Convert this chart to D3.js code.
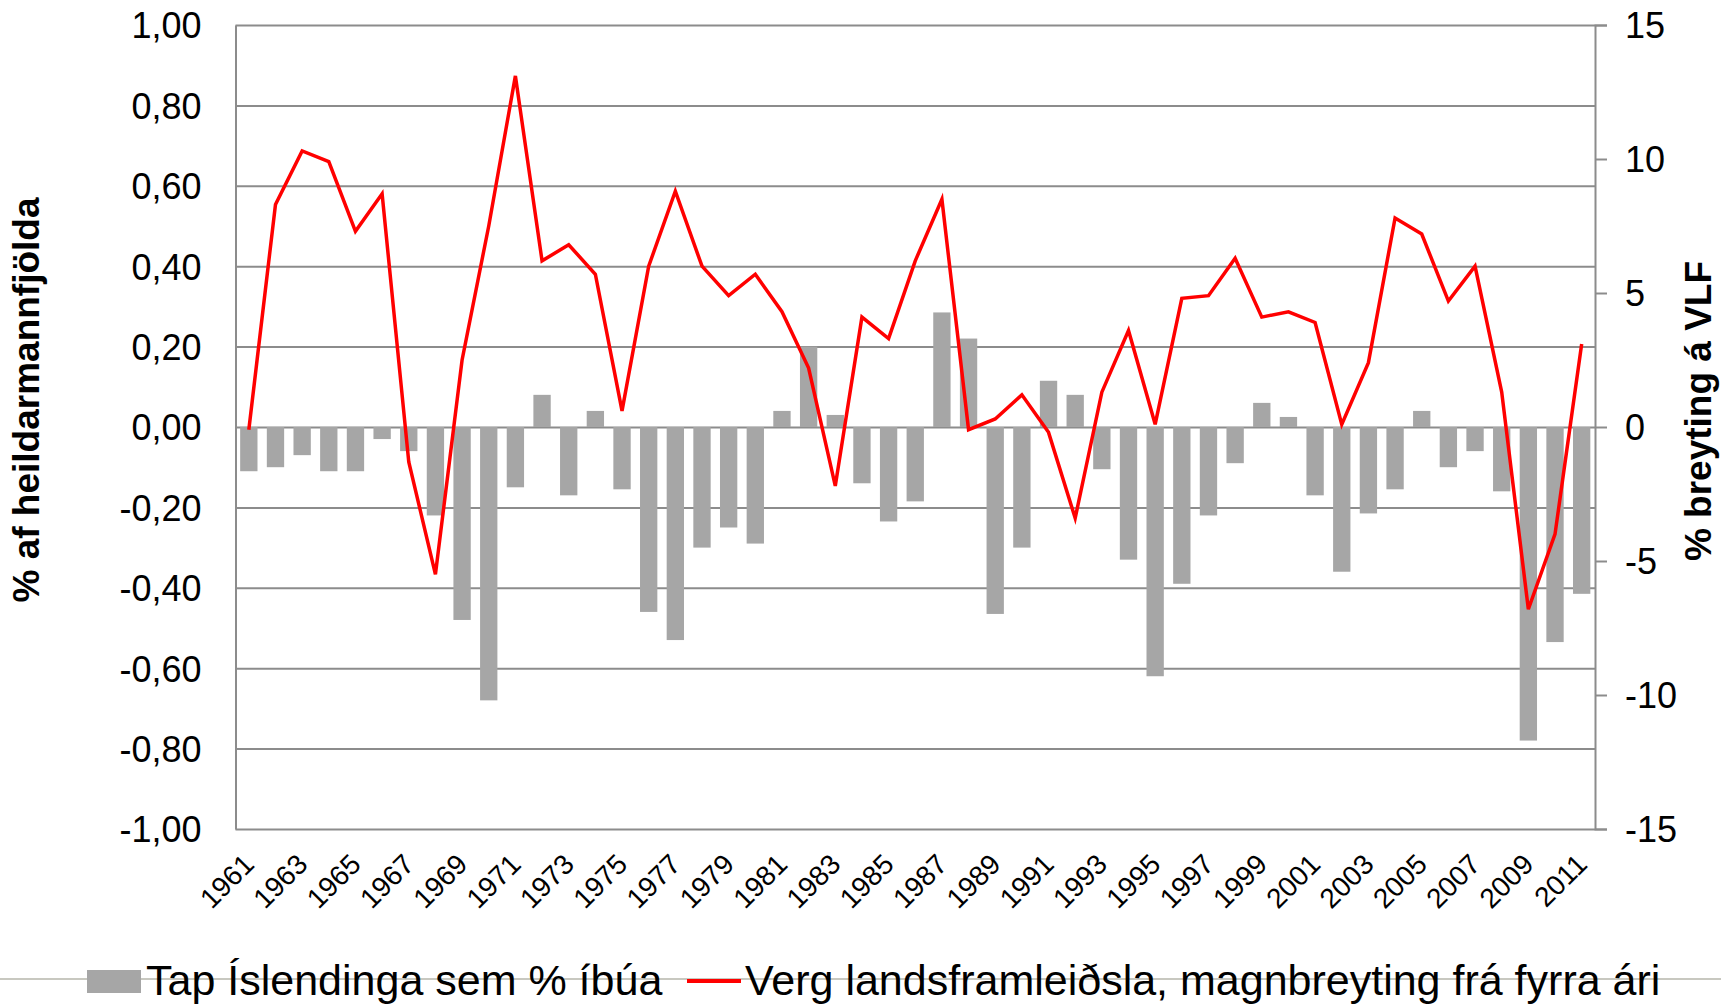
<!DOCTYPE html>
<html>
<head>
<meta charset="utf-8">
<script src="https://cdn.jsdelivr.net/npm/d3@7"></script>
<style>
  body { margin: 0; background: #fff; }
  svg { display: block; }
</style>
</head>
<body>
<div id="chart"></div>
<script>
// Years on the category axis
var years = [1961, 1962, 1963, 1964, 1965, 1966, 1967, 1968, 1969, 1970,
  1971, 1972, 1973, 1974, 1975, 1976, 1977, 1978, 1979, 1980,
  1981, 1982, 1983, 1984, 1985, 1986, 1987, 1988, 1989, 1990,
  1991, 1992, 1993, 1994, 1995, 1996, 1997, 1998, 1999, 2000,
  2001, 2002, 2003, 2004, 2005, 2006, 2007, 2008, 2009, 2010, 2011];

// Tap Íslendinga sem % íbúa (left axis)
var tapValues = [-0.11, -0.10, -0.07, -0.11, -0.11, -0.03, -0.06, -0.22, -0.48, -0.68,
  -0.15, 0.08, -0.17, 0.04, -0.155, -0.46, -0.53, -0.30, -0.25, -0.29,
  0.04, 0.20, 0.03, -0.14, -0.235, -0.185, 0.285, 0.22, -0.465, -0.30,
  0.115, 0.08, -0.105, -0.33, -0.62, -0.39, -0.22, -0.09, 0.06, 0.025,
  -0.17, -0.36, -0.215, -0.155, 0.04, -0.10, -0.06, -0.16, -0.78, -0.535, -0.415];

// Verg landsframleiðsla, magnbreyting (right axis)
var vlfValues = [-0.1, 8.3, 10.3, 9.9, 7.3, 8.7, -1.3, -5.5, 2.5, 7.5,
  13.1, 6.2, 6.8, 5.7, 0.6, 6.0, 8.8, 6.0, 4.9, 5.7,
  4.3, 2.2, -2.2, 4.1, 3.3, 6.2, 8.5, -0.1, 0.3, 1.2,
  -0.2, -3.4, 1.3, 3.6, 0.1, 4.8, 4.9, 6.3, 4.1, 4.3,
  3.9, 0.1, 2.4, 7.8, 7.2, 4.7, 6.0, 1.3, -6.8, -4.0, 3.1];

var leftTicks = [-1, -0.8, -0.6, -0.4, -0.2, 0, 0.2, 0.4, 0.6, 0.8, 1];
var rightTicks = [-15, -10, -5, 0, 5, 10, 15];

var legendLabels = ["Tap Íslendinga sem % íbúa", "Verg landsframleiðsla, magnbreyting frá fyrra ári"];
var leftTitle = "% af heildarmannfjölda";
var rightTitle = "% breyting á VLF";

var attrs = {
  svgWidth: 1721,
  svgHeight: 1005,
  marginTop: 25,
  marginLeft: 235.5,
  plotRight: 1595,
  plotBottom: 829,
  font: '"Liberation Sans", Arial, Helvetica, sans-serif',
  gridColor: '#8c8c8c',
  barColor: '#a6a6a6',
  lineColor: '#ff0000'
};

var locale = d3.formatLocale({ decimal: ",", thousands: ".", grouping: [3], currency: ["", ""], minus: "-" });
var fmtLeft = locale.format(".2f");
var fmtRight = locale.format("d");

var svg = d3.select("#chart").append("svg")
  .attr("width", attrs.svgWidth)
  .attr("height", attrs.svgHeight)
  .attr("font-family", attrs.font);

//Scales
var x = d3.scaleBand()
  .domain(years)
  .range([attrs.marginLeft, attrs.plotRight])
  .paddingInner(0.35)
  .paddingOuter(0.175);

var yLeft = d3.scaleLinear().domain([-1, 1]).range([attrs.plotBottom, attrs.marginTop]);
var yRight = d3.scaleLinear().domain([-15, 15]).range([attrs.plotBottom, attrs.marginTop]);

//Gridlines
svg.append("g")
  .attr("class", "grid")
  .attr("transform", "translate(" + attrs.marginLeft + ",0)")
  .call(d3.axisLeft(yLeft).tickValues(leftTicks).tickSize(-(attrs.plotRight - attrs.marginLeft)).tickFormat(""))
  .call(g => g.select(".domain").remove())
  .selectAll("line")
  .attr("stroke", attrs.gridColor)
  .attr("stroke-width", 2);

//Bars
svg.append("g").selectAll("rect")
  .data(years)
  .enter().append("rect")
  .attr("x", d => x(d))
  .attr("width", x.bandwidth())
  .attr("y", (d, i) => yLeft(Math.max(0, tapValues[i])))
  .attr("height", (d, i) => Math.abs(yLeft(tapValues[i]) - yLeft(0)))
  .attr("fill", attrs.barColor);

//Left axis (labels only, plus vertical line)
var leftAxis = svg.append("g")
  .attr("transform", "translate(" + attrs.marginLeft + ",0)")
  .call(d3.axisLeft(yLeft).tickValues(leftTicks).tickSize(0).tickPadding(34).tickFormat(fmtLeft));
leftAxis.select(".domain").attr("stroke", attrs.gridColor).attr("stroke-width", 2);
leftAxis.selectAll("text")
  .attr("font-size", 36)
  .attr("font-family", attrs.font)
  .attr("fill", "#000")
  .attr("dy", "0.36em");

//Right axis
var rightAxis = svg.append("g")
  .attr("transform", "translate(" + attrs.plotRight + ",0)")
  .call(d3.axisRight(yRight).tickValues(rightTicks).tickSize(12).tickSizeOuter(12).tickPadding(18).tickFormat(fmtRight));
rightAxis.select(".domain").attr("stroke", attrs.gridColor).attr("stroke-width", 2);
rightAxis.selectAll("line").attr("stroke", attrs.gridColor).attr("stroke-width", 2);
rightAxis.selectAll("text")
  .attr("font-size", 36)
  .attr("font-family", attrs.font)
  .attr("fill", "#000")
  .attr("dy", "0.36em");

//Bottom axis labels
var xAxis = svg.append("g")
  .attr("transform", "translate(0," + attrs.plotBottom + ")")
  .call(d3.axisBottom(x).tickValues(years.filter((d, i) => i % 2 === 0)).tickSize(0));
xAxis.select(".domain").remove();
xAxis.selectAll("text")
  .attr("font-size", 28)
  .attr("font-family", attrs.font)
  .attr("fill", "#000")
  .attr("x", 0).attr("y", 0).attr("dy", 0)
  .attr("text-anchor", "end")
  .attr("transform", "translate(7,37) rotate(-45)");

//Line
var line = d3.line()
  .x((d, i) => x(years[i]) + x.bandwidth() / 2)
  .y(d => yRight(d));

svg.append("path")
  .datum(vlfValues)
  .attr("d", line)
  .attr("fill", "none")
  .attr("stroke", attrs.lineColor)
  .attr("stroke-width", 3.5)
  .attr("stroke-linejoin", "miter");

//Axis titles
svg.append("text")
  .attr("transform", "translate(39,400) rotate(-90)")
  .attr("text-anchor", "middle")
  .attr("font-size", 37)
  .attr("font-weight", "bold")
  .text(leftTitle);

svg.append("text")
  .attr("transform", "translate(1711,411) rotate(-90)")
  .attr("text-anchor", "middle")
  .attr("font-size", 37)
  .attr("font-weight", "bold")
  .text(rightTitle);

//Thin border line under chart
svg.append("line")
  .attr("x1", 0).attr("x2", attrs.svgWidth)
  .attr("y1", 979).attr("y2", 979)
  .attr("stroke", "#c8c8c0")
  .attr("stroke-width", 2);

//Legend
var legend = svg.append("g").attr("font-size", 43);
legend.append("rect")
  .attr("x", 87).attr("y", 970).attr("width", 54).attr("height", 23)
  .attr("fill", attrs.barColor);
legend.append("text")
  .attr("x", 146).attr("y", 995)
  .text(legendLabels[0]);
legend.append("line")
  .attr("x1", 687).attr("x2", 741).attr("y1", 981).attr("y2", 981)
  .attr("stroke", attrs.lineColor)
  .attr("stroke-width", 4);
legend.append("text")
  .attr("x", 745).attr("y", 995)
  .text(legendLabels[1]);
</script>
</body>
</html>
